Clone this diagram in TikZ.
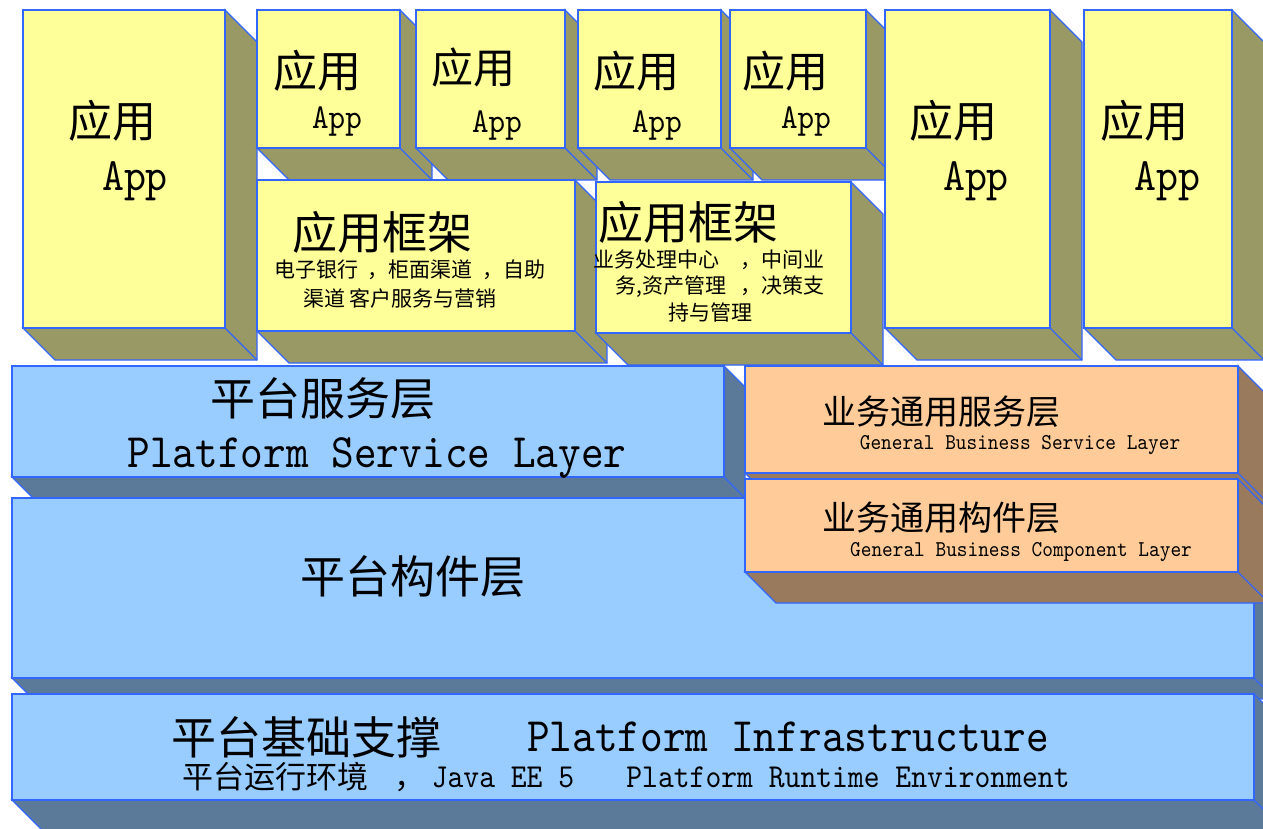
\documentclass[tikz,border=0pt]{standalone}
\usepackage{fontspec}
\usepackage{xcolor}
\newfontfamily\cjkfont{Noto Sans CJK SC}
\newfontfamily\lmmono{lmmono10-regular.otf}[FakeStretch=0.9]
\definecolor{edgeblue}{HTML}{3366FF}
\definecolor{yellowface}{HTML}{FFFF99}
\definecolor{yellowside}{HTML}{999966}
\definecolor{blueface}{HTML}{99CCFF}
\definecolor{blueside}{HTML}{5B7A99}
\definecolor{orangeface}{HTML}{FFCC99}
\definecolor{orangeside}{HTML}{997A5C}
% name, x, y, width, height, depth, colour
\newcommand{\cuboid}[7]{%
  \draw[edge,fill=#7side] (#2,#3+#5) -- ++(#4,0) -- ++(0,-#5) -- ++(#6,#6) -- ++(0,#5) -- ++(-#4,0) -- cycle;
  \draw[edge] (#2+#4,#3+#5) -- ++(#6,#6);
  \node[face,fill=#7face,minimum width=#4pt,minimum height=#5pt,anchor=north west] (#1) at (#2,#3) {};
}

\begin{document}
\begin{tikzpicture}[x=1pt,y=-1pt,
        edge/.style={draw=edgeblue,line width=1.3pt},
        face/.style={edge,inner sep=0pt,outer sep=0pt},
        zh/.style={font=\cjkfont\fontsize{#1}{#1}\selectfont,inner sep=0pt},
        en/.style={font=\lmmono\fontsize{#1}{#1}\selectfont,inner sep=0pt,anchor=base}]
        \useasboundingbox (0,0) rectangle (1263,828);
        \clip (0,0) rectangle (1263,828);

        \cuboid{app1}{23}{10}{202}{318}{32}{yellow}
        \cuboid{app2}{257}{10}{143}{138}{32}{yellow}
        \cuboid{app3}{416}{10}{149}{138}{32}{yellow}
        \cuboid{app4}{578}{10}{143}{138}{32}{yellow}
        \cuboid{app5}{730}{10}{136}{138}{32}{yellow}
        \cuboid{app6}{885}{10}{165}{318}{32}{yellow}
        \cuboid{app7}{1084}{10}{148}{318}{32}{yellow}
        \cuboid{frame1}{257}{180}{318}{151}{32}{yellow}
        \cuboid{frame2}{596}{182}{255}{151}{32}{yellow}

        \cuboid{svc}{12}{366}{712}{111}{21}{blue}
        \cuboid{comp}{12}{498}{1242}{180}{21}{blue}
        \cuboid{infra}{12}{694}{1242}{106}{30}{blue}
        \cuboid{bizsvc}{745}{366}{493}{107}{31}{orange}
        \cuboid{bizcomp}{745}{479}{493}{93}{31}{orange}

        \node[zh=44] (app1zh) at (112,121) {应用};
        \node[en=46.5] (app1en) at (135,190) {App};
        \node[zh=44] (app2zh) at (317,71) {应用};
        \node[en=35] (app2en) at (337,128) {App};
        \node[zh=42] (app3zh) at (473,68) {应用};
        \node[en=35] (app3en) at (497,132) {App};
        \node[zh=43] (app4zh) at (636,71) {应用};
        \node[en=35] (app4en) at (657,132) {App};
        \node[zh=43] (app5zh) at (785,71) {应用};
        \node[en=35] (app5en) at (806,128) {App};
        \node[zh=44] (app6zh) at (953,121) {应用};
        \node[en=46.5] (app6en) at (976,190) {App};
        \node[zh=44] (app7zh) at (1144,121) {应用};
        \node[en=46.5] (app7en) at (1167,190) {App};

        \node[zh=45] (frame1zh) at (382,232) {应用框架};
        \node[zh=21] (frame1a) at (410,270) {电子银行~ ，柜面渠道~ ，自助};
        \node[zh=21] (frame1b) at (400,298) {渠道 客户服务与营销};
        \node[zh=45] (frame2zh) at (688,222) {应用框架};
        \node[zh=21] (frame2a) at (709,260) {业务处理中心\quad ，中间业};
        \node[zh=21] (frame2b) at (720,287) {务,资产管理\ \ \ ，决策支};
        \node[zh=21] (frame2c) at (710,312) {持与管理};

        \node[zh=45] (svczh) at (323,399) {平台服务层};
        \node[en=48] (svcen) at (377,467) {Platform Service Layer};
        \node[zh=45] (compzh) at (413,577) {平台构件层};
        \node[zh=34] (bizsvczh) at (941,412) {业务通用服务层};
        \node[en=22.6] (bizsvcen) at (1020,449) {General Business Service Layer};
        \node[zh=34] (bizcompzh) at (941,518) {业务通用构件层};
        \node[en=22.6] (bizcompen) at (1021,556) {General Business Component Layer};

        \node[zh=45] (infrazh) at (306,737) {平台基础支撑};
        \node[en=48] (infraen) at (788,751) {Platform Infrastructure};
        \node[zh=31,anchor=west] (runzh) at (182,777) {平台运行环境\hspace{26pt}，};
        \node[en=33.5] (runjava) at (503,787) {Java EE 5};
        \node[en=33.5] (runen) at (848,787) {Platform Runtime Environment};

    \end{tikzpicture}
\end{document}
